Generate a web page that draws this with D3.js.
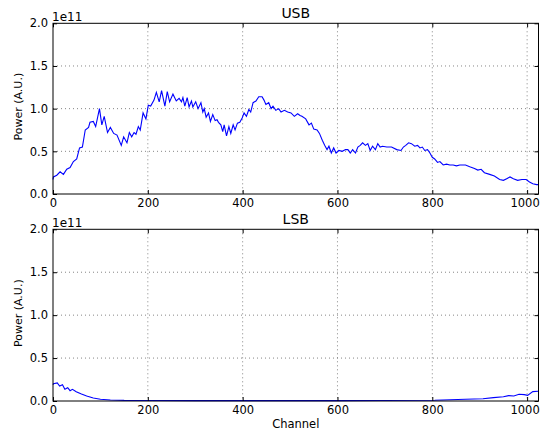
<!DOCTYPE html>
<html>
<head>
<meta charset="utf-8">
<script src="https://cdn.jsdelivr.net/npm/d3@7"></script>
<style>
  html, body { margin: 0; padding: 0; background: #fff; }
  svg { display: block; }
  text { font-family: "DejaVu Sans", sans-serif; fill: #000; }
</style>
</head>
<body>
<svg id="chart" width="540" height="434"></svg>
<script>
// ---- data (power in units of 1e11) ----
const usbChannel = [0,1,8,15,22,29,36,43,50,56,62,68,75,78,85,90,98,103,108,115,121,128,135,144,149,156,161,166,171,175,180,184,190,196,201,206,213,218,224,229,236,241,246,253,260,266,271,274,278,283,287,292,295,301,306,312,316,319,323,328,332,337,342,346,349,354,358,361,366,371,375,380,384,389,394,399,403,408,413,417,422,428,434,441,445,449,455,460,464,470,476,481,488,495,502,509,516,521,525,533,540,545,550,557,562,568,573,578,582,587,592,597,603,610,617,622,627,632,638,643,648,653,659,664,669,674,680,685,690,695,704,714,725,734,739,744,750,756,763,769,774,779,784,790,795,800,805,811,816,823,830,837,844,851,858,865,870,879,889,896,903,910,921,931,942,950,957,964,971,980,989,998,1005,1012,1020,1023];
const usbPower = [0.17,0.20,0.22,0.26,0.23,0.29,0.31,0.38,0.41,0.54,0.55,0.75,0.78,0.84,0.85,0.79,1.00,0.81,0.91,0.72,0.78,0.71,0.69,0.57,0.67,0.60,0.72,0.67,0.72,0.70,0.79,0.75,0.95,0.88,1.04,1.03,1.10,1.19,1.08,1.21,1.03,1.20,1.08,1.17,1.09,1.12,1.08,1.13,1.03,1.13,1.02,1.09,1.02,1.08,1.00,1.07,0.96,1.00,0.90,0.95,0.85,0.93,0.86,0.87,0.84,0.81,0.73,0.81,0.68,0.79,0.71,0.81,0.75,0.83,0.84,0.89,0.95,0.91,0.99,0.96,1.07,1.09,1.14,1.14,1.10,1.05,1.07,1.00,1.03,0.98,1.00,0.96,0.98,0.96,0.95,0.91,0.94,0.92,0.91,0.88,0.81,0.83,0.76,0.75,0.71,0.63,0.57,0.52,0.56,0.48,0.54,0.48,0.51,0.50,0.52,0.52,0.48,0.52,0.48,0.55,0.57,0.60,0.57,0.59,0.51,0.56,0.52,0.59,0.55,0.56,0.55,0.55,0.52,0.51,0.55,0.57,0.60,0.59,0.56,0.57,0.54,0.55,0.51,0.52,0.48,0.43,0.41,0.37,0.38,0.34,0.35,0.34,0.34,0.33,0.34,0.34,0.34,0.32,0.30,0.28,0.29,0.25,0.23,0.21,0.17,0.16,0.18,0.20,0.18,0.16,0.17,0.17,0.14,0.12,0.11,0.11];

const lsbChannel = [0,1,9,14,20,25,31,36,41,49,60,71,85,100,121,150,200,300,400,500,600,700,805,870,907,929,950,961,972,983,994,1001,1012,1023];
const lsbPower = [0.19,0.20,0.21,0.175,0.19,0.136,0.155,0.12,0.136,0.109,0.082,0.058,0.035,0.02,0.012,0.007,0.005,0.004,0.004,0.004,0.004,0.005,0.008,0.02,0.027,0.039,0.05,0.062,0.058,0.078,0.074,0.066,0.109,0.113];

const xTicks = [0,200,400,600,800,1000];
const yTicks = [0.0,0.5,1.0,1.5,2.0];
const panels = [
  {title: "USB", channel: usbChannel, power: usbPower, top: 23.3, bottom: 194, xlabel: ""},
  {title: "LSB", channel: lsbChannel, power: lsbPower, top: 229.3, bottom: 401, xlabel: "Channel"}
];
const offsetText = "1e11";
const ylabel = "Power (A.U.)";

// ---- layout ----
const svg = d3.select("#chart");
const left = 53, right = 538.5;
const x = d3.scaleLinear().domain([0, 1024]).range([left, right]);

panels.forEach(p => {
  const y = d3.scaleLinear().domain([0, 2]).range([p.bottom, p.top]);
  const g = svg.append("g");

  // grid
  g.append("g").selectAll("line").data(xTicks.filter(t => t > 0)).join("line")
    .attr("x1", d => x(d)).attr("x2", d => x(d))
    .attr("y1", p.top).attr("y2", p.bottom)
    .attr("stroke", "#666").attr("stroke-width", 0.8).attr("stroke-dasharray", "1,3");
  g.append("g").selectAll("line").data(yTicks.filter(t => t > 0 && t < 2)).join("line")
    .attr("x1", left).attr("x2", right)
    .attr("y1", d => y(d)).attr("y2", d => y(d))
    .attr("stroke", "#666").attr("stroke-width", 0.8).attr("stroke-dasharray", "1,3");

  // line
  const data = p.channel.map((c, i) => [c, p.power[i]]);
  g.append("path").datum(data)
    .attr("fill", "none").attr("stroke", "#0000ff").attr("stroke-width", 1.1)
    .attr("d", d3.line().x(d => x(d[0])).y(d => y(d[1])));

  // axes
  const fmtY = d3.format(".1f");
  const ax = g.append("g").attr("transform", `translate(0,${p.bottom})`)
    .call(d3.axisBottom(x).tickValues(xTicks).tickSizeInner(-4).tickSizeOuter(0).tickPadding(5).tickFormat(d3.format("d")));
  const ay = g.append("g").attr("transform", `translate(${left},0)`)
    .call(d3.axisLeft(y).tickValues(yTicks).tickSizeInner(-4).tickSizeOuter(0).tickPadding(5).tickFormat(fmtY));
  const at = g.append("g").attr("transform", `translate(0,${p.top})`)
    .call(d3.axisTop(x).tickValues(xTicks).tickSizeInner(-4).tickSizeOuter(0).tickFormat(""));
  const ar = g.append("g").attr("transform", `translate(${right},0)`)
    .call(d3.axisRight(y).tickValues(yTicks).tickSizeInner(-4).tickSizeOuter(0).tickFormat(""));
  [ax, ay, at, ar].forEach(a => {
    a.select(".domain").remove();
    a.selectAll("text").style("font-size", "11.5px").attr("font-family", "DejaVu Sans");
    a.selectAll(".tick line").attr("stroke", "#000");
  });
  // keep the last x label inside the canvas
  ax.selectAll(".tick text").filter(d => d === xTicks[xTicks.length - 1]).attr("dx", -2.5);

  // frame
  g.append("rect").attr("x", left).attr("y", p.top)
    .attr("width", right - left).attr("height", p.bottom - p.top)
    .attr("fill", "none").attr("stroke", "#000").attr("stroke-width", 1);

  // title
  g.append("text").attr("x", (left + right) / 2).attr("y", p.top - 5)
    .attr("text-anchor", "middle").style("font-size", "14px").text(p.title);
  // offset text
  g.append("text").attr("x", left - 1).attr("y", p.top - 2)
    .style("font-size", "12px").text(offsetText);
  // y label
  g.append("text")
    .attr("transform", `translate(22,${(p.top + p.bottom) / 2 - 2}) rotate(-90)`)
    .attr("text-anchor", "middle").style("font-size", "11px").text(ylabel);
  if (p.xlabel) {
    g.append("text").attr("x", (left + right) / 2).attr("y", p.bottom + 27)
      .attr("text-anchor", "middle").style("font-size", "11.5px").text(p.xlabel);
  }
});
</script>
</body>
</html>
